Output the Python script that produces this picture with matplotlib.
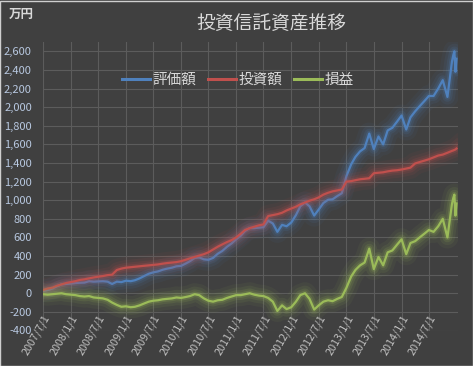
import matplotlib
matplotlib.use("Agg")
import matplotlib.pyplot as plt
import matplotlib.patheffects as pe
import pandas as pd

plt.rcParams['font.family'] = ['Noto Sans CJK JP', 'DejaVu Sans']

# ---- data (万円) ----
dates = list(pd.date_range('2007-07-01', '2014-12-01', freq='MS')) + \
        list(pd.to_datetime(['2014-12-10', '2014-12-17', '2014-12-24', '2014-12-31']))

valuation = [25, 35, 50, 75, 95, 100, 105, 110, 113, 115, 130, 125, 128, 130, 125, 100,
             125, 120, 135, 130, 140, 160, 185, 210, 225, 235, 253, 265, 275, 290,
             295, 320, 345, 380, 385, 365, 360, 380, 425, 455, 500, 535, 580, 620,
             670, 700, 700, 705, 710, 780, 750, 660, 735, 720, 760, 840, 935, 975,
             935, 835, 900, 970, 1005, 1010, 1045, 1075, 1260, 1385, 1465, 1525,
             1560, 1716, 1550, 1685, 1600, 1750, 1778, 1842, 1910, 1760, 1890, 1955,
             2010, 2065, 2120, 2120, 2200, 2290, 2110, 2490,
             2560, 2600, 2380, 2520]

invested = [35, 50, 60, 80, 95, 110, 120, 130, 143, 150, 160, 170, 178, 185, 195, 200,
            250, 265, 275, 280, 285, 290, 295, 300, 305, 310, 318, 325, 330, 335,
            345, 360, 375, 390, 405, 420, 440, 470, 500, 525, 550, 570, 600, 640,
            680, 700, 715, 730, 740, 830, 840, 850, 865, 890, 910, 930, 955, 975,
            995, 1010, 1030, 1060, 1080, 1095, 1105, 1115, 1200, 1205, 1215, 1225,
            1230, 1236, 1290, 1295, 1300, 1310, 1318, 1322, 1330, 1340, 1350, 1395,
            1410, 1425, 1440, 1460, 1480, 1490, 1510, 1530,
            1535, 1540, 1545, 1555]

profit = [-10, -15, -10, -5, 0, -10, -15, -20, -30, -35, -30, -45, -50, -55, -70, -100,
          -125, -145, -140, -150, -145, -130, -110, -90, -80, -75, -65, -60, -55, -45,
          -50, -40, -30, -10, -20, -55, -80, -90, -75, -70, -50, -35, -20, -20,
          -10, 0, -15, -25, -30, -50, -90, -190, -130, -170, -150, -90, -20, 0,
          -60, -175, -130, -90, -75, -85, -60, -40, 60, 180, 250, 300,
          330, 480, 260, 390, 300, 440, 460, 520, 580, 420, 540, 560,
          600, 640, 680, 660, 720, 800, 600, 960,
          1025, 1060, 835, 965]

series_names = ['評価額', '投資額', '損益']
series_colors = ['#4f81bd', '#c0504d', '#9bbb59']
title = '投資信託資産推移'
unit_label = '万円'
yticks = list(range(-400, 2601, 200))
xticks = pd.date_range('2007-07-01', '2014-07-01', freq='6MS')

# ---- figure ----
bg = '#404040'
fig = plt.figure(figsize=(4.73, 3.66), dpi=100, facecolor=bg)
ax = fig.add_axes([43/473, 1 - 330.5/366, (458 - 43)/473, (330.5 - 42)/366])
ax.set_facecolor(bg)

for vals, name, col in zip([valuation, invested, profit], series_names, series_colors):
    ax.plot(dates, vals, color=col, lw=1.6, label=name, solid_joinstyle='round',
            path_effects=[pe.Stroke(linewidth=16, foreground=col, alpha=0.06),
                          pe.Stroke(linewidth=11, foreground=col, alpha=0.09),
                          pe.Stroke(linewidth=7, foreground=col, alpha=0.13),
                          pe.Stroke(linewidth=4, foreground=col, alpha=0.2),
                          pe.Normal()])

ax.set_ylim(-400, 2700)
ax.set_xlim(pd.Timestamp('2007-07-01'), pd.Timestamp('2015-01-10'))
ax.set_yticks(yticks)
ax.set_yticklabels([f'{v:,}' for v in yticks])
ax.set_xticks(xticks)
ax.set_xticklabels([f'{d.year}/{d.month}/1' for d in xticks])
ax.grid(True, color='#5c5c5c', lw=0.8)
ax.set_axisbelow(True)
for s in ax.spines.values():
    s.set_visible(False)
ax.spines['bottom'].set_position(('data', -200))

ax.tick_params(axis='y', length=0, pad=8, labelsize=8, labelcolor='#b8c8e0')
ax.tick_params(axis='x', length=0, pad=1, labelsize=7.8, labelcolor='#bfbfbf')
for lab in ax.get_xticklabels():
    lab.set_rotation(60)
    lab.set_ha('right')
    lab.set_va('top')
    lab.set_rotation_mode('anchor')

leg = ax.legend(loc='center left', bbox_to_anchor=(122/473, 1 - 80/366),
                bbox_transform=fig.transFigure, ncol=3, frameon=False,
                fontsize=10.5, handlelength=1.9, handletextpad=0.2,
                columnspacing=0.8, borderpad=0, borderaxespad=0)
for t in leg.get_texts():
    t.set_color('#d9d9d9')
for h in leg.get_lines():
    h.set_path_effects([])
    h.set_linewidth(2.2)

fig.text(271/473, 1 - 23/366, title, ha='center', va='center', fontsize=13.5,
         color='#d9d9d9')
fig.text(9/473, 1 - 14/366, unit_label, ha='left', va='center', fontsize=9,
         color='#d9d9d9', fontweight='bold')

fig.patches.append(plt.Rectangle((0.001, 0.001), 0.998, 0.997, transform=fig.transFigure,
                                 fill=False, edgecolor='#cfcfcf', lw=1))

fig.savefig('out.png', dpi=100, facecolor=bg)
